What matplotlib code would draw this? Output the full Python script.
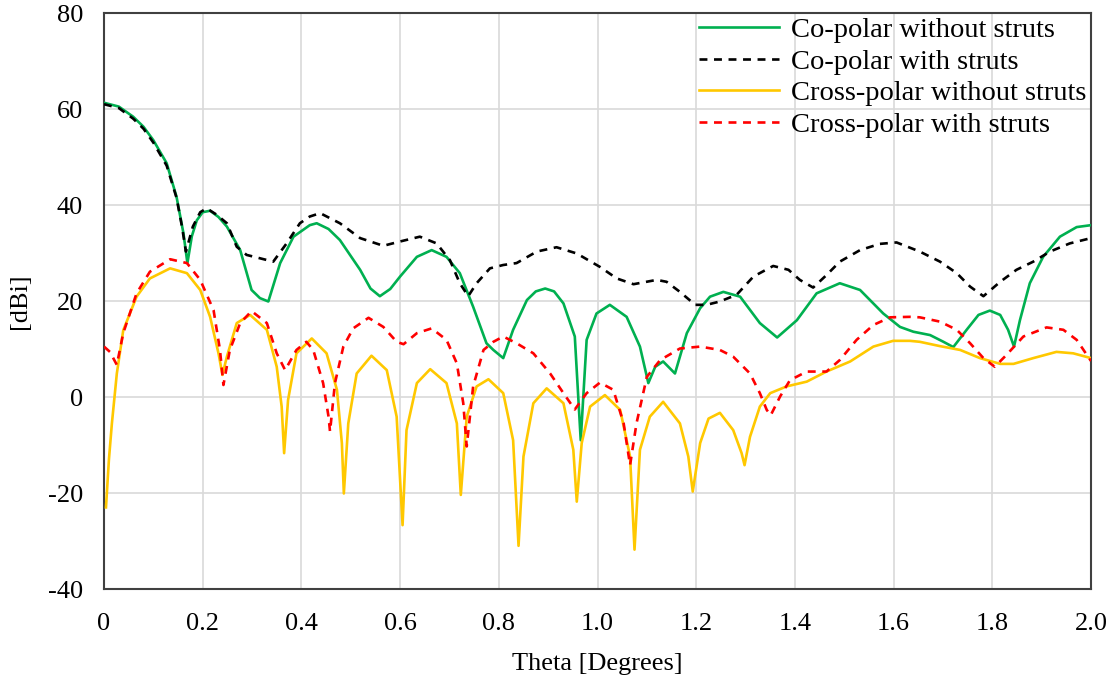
import matplotlib
matplotlib.use("Agg")
import matplotlib.pyplot as plt

# Co-polar without struts (green)
co_ns_x = [0.000, 0.030, 0.059, 0.080, 0.100, 0.127, 0.147, 0.161, 0.169, 0.178, 0.188, 0.200, 0.215, 0.232,
           0.249, 0.276, 0.299, 0.316, 0.333, 0.357, 0.384, 0.417, 0.431, 0.455, 0.478, 0.519, 0.540,
           0.559, 0.580, 0.600, 0.634, 0.664, 0.694, 0.721, 0.748, 0.775, 0.789, 0.809, 0.829, 0.857,
           0.875, 0.894, 0.912, 0.931, 0.954, 0.966, 0.978, 0.998, 1.025, 1.059, 1.086, 1.103, 1.117,
           1.133, 1.157, 1.181, 1.208, 1.228, 1.255, 1.289, 1.329, 1.364, 1.404, 1.444, 1.491, 1.532,
           1.579, 1.613, 1.640, 1.674, 1.701, 1.721, 1.748, 1.772, 1.795, 1.816, 1.832, 1.844, 1.856,
           1.876, 1.903, 1.937, 1.971, 2.000]
co_ns_y = [61.3, 60.5, 58.4, 56.3, 53.5, 48.7, 41.7, 34.1, 27.9, 33.5, 36.8, 38.5, 38.8, 37.5,
           35.5, 30.6, 22.3, 20.6, 19.9, 27.9, 33.4, 35.8, 36.2, 35.0, 32.7, 26.5, 22.6,
           21.0, 22.5, 25.1, 29.2, 30.6, 29.2, 25.8, 18.8, 11.2, 9.8, 8.1, 14.0, 20.2,
           22.0, 22.6, 22.0, 19.5, 12.6, -9.0, 11.9, 17.4, 19.2, 16.7, 10.5, 2.9, 6.3,
           7.4, 4.9, 13.3, 18.5, 20.9, 21.9, 20.9, 15.4, 12.4, 16.0, 21.6, 23.7, 22.3,
           17.4, 14.6, 13.6, 12.9, 11.5, 10.4, 14.0, 17.1, 18.0, 17.1, 14.0, 10.5, 16.0,
           23.7, 29.2, 33.4, 35.4, 35.8]

# Co-polar with struts (black dashed)
co_s_x = [0.000, 0.030, 0.059, 0.080, 0.100, 0.127, 0.147, 0.158, 0.166, 0.180, 0.195, 0.208, 0.228,
          0.249, 0.269, 0.289, 0.316, 0.343, 0.370, 0.397, 0.417, 0.438, 0.478, 0.519, 0.566,
          0.600, 0.640, 0.674, 0.701, 0.721, 0.738, 0.755, 0.782, 0.809, 0.836, 0.877, 0.917,
          0.958, 1.005, 1.039, 1.073, 1.120, 1.140, 1.167, 1.198, 1.221, 1.248, 1.282, 1.316,
          1.356, 1.387, 1.410, 1.437, 1.464, 1.491, 1.532, 1.572, 1.606, 1.653, 1.694, 1.728,
          1.755, 1.782, 1.816, 1.849, 1.883, 1.917, 1.957, 2.000]
co_s_y = [61.0, 60.2, 58.0, 55.9, 53.0, 48.2, 41.5, 35.5, 30.3, 35.5, 38.5, 39.3, 38.0,
          36.2, 31.3, 29.6, 28.9, 28.2, 32.0, 36.2, 37.6, 38.3, 36.2, 33.1, 31.5,
          32.4, 33.4, 32.0, 28.5, 23.7, 21.0, 23.7, 26.8, 27.5, 27.9, 30.3, 31.2,
          29.9, 27.1, 24.7, 23.5, 24.4, 24.0, 21.9, 19.2, 19.2, 19.9, 21.3, 25.1,
          27.3, 26.5, 24.4, 22.8, 25.4, 28.2, 30.6, 31.9, 32.2, 30.3, 28.2, 25.8,
          23.0, 21.0, 24.0, 26.5, 28.2, 30.3, 32.0, 33.1]

# Cross-polar without struts (yellow)
cx_ns_x = [0.004, 0.010, 0.016, 0.026, 0.039, 0.066, 0.093, 0.134, 0.168, 0.195, 0.215, 0.232,
           0.240, 0.249, 0.269, 0.296, 0.330, 0.350, 0.360, 0.365, 0.373, 0.390, 0.421, 0.451,
           0.472, 0.482, 0.486, 0.495, 0.512, 0.542, 0.573, 0.593, 0.605, 0.613, 0.634, 0.661,
           0.694, 0.715, 0.723, 0.735, 0.755, 0.779, 0.809, 0.829, 0.840, 0.850, 0.870, 0.897,
           0.931, 0.951, 0.958, 0.968, 0.985, 1.015, 1.046, 1.066, 1.075, 1.086, 1.106, 1.133,
           1.167, 1.184, 1.193, 1.208, 1.225, 1.248, 1.275, 1.292, 1.298, 1.309, 1.329, 1.350,
           1.383, 1.424, 1.464, 1.512, 1.559, 1.599, 1.633, 1.653, 1.694, 1.735, 1.775, 1.816,
           1.843, 1.883, 1.930, 1.964, 2.000]
cx_ns_y = [-23.0, -13.0, -5.5, 4.9, 13.9, 20.9, 24.7, 26.8, 25.8, 22.3, 16.7, 9.1,
           4.6, 8.4, 15.4, 17.1, 14.0, 6.3, -2.0, -11.7, -0.6, 9.1, 12.2, 9.1,
           1.5, -9.6, -20.1, -5.5, 4.9, 8.6, 5.6, -4.1, -26.7, -6.9, 2.9, 5.8,
           2.9, -5.5, -20.4, -4.1, 2.2, 3.7, 0.8, -9.0, -31.0, -12.4, -1.3, 1.8,
           -1.3, -11.0, -21.8, -9.6, -2.0, 0.4, -2.7, -12.4, -31.8, -11.0, -4.1, -1.0,
           -5.5, -12.4, -19.7, -9.6, -4.5, -3.3, -6.9, -11.7, -14.2, -8.3, -2.0, 0.8,
           2.2, 3.2, 5.3, 7.4, 10.5, 11.7, 11.7, 11.5, 10.6, 9.8, 8.1, 6.9,
           6.9, 8.1, 9.4, 9.1, 8.1]

# Cross-polar with struts (red dashed)
cx_s_x = [0.000, 0.012, 0.026, 0.039, 0.066, 0.093, 0.134, 0.168, 0.195, 0.222, 0.235, 0.242,
          0.255, 0.276, 0.299, 0.330, 0.350, 0.367, 0.390, 0.410, 0.424, 0.444, 0.455, 0.458,
          0.468, 0.485, 0.505, 0.536, 0.566, 0.593, 0.607, 0.634, 0.664, 0.694, 0.715, 0.728,
          0.735, 0.748, 0.769, 0.789, 0.809, 0.836, 0.870, 0.904, 0.931, 0.954, 0.978, 1.005,
          1.032, 1.053, 1.066, 1.079, 1.100, 1.127, 1.167, 1.208, 1.248, 1.275, 1.309, 1.329,
          1.343, 1.351, 1.370, 1.390, 1.424, 1.464, 1.491, 1.525, 1.559, 1.593, 1.633, 1.653,
          1.694, 1.728, 1.755, 1.782, 1.805, 1.829, 1.863, 1.910, 1.944, 1.971, 2.000]
cx_s_y = [10.5, 9.4, 6.7, 13.3, 21.6, 26.1, 28.7, 27.9, 24.4, 18.1, 9.8, 2.5,
          9.8, 15.4, 17.9, 15.4, 9.1, 5.6, 9.8, 11.5, 9.8, 2.9, -4.1, -7.2,
          2.9, 10.5, 14.3, 16.5, 14.6, 11.5, 11.0, 13.3, 14.3, 11.9, 7.0, -1.3,
          -10.3, 2.2, 9.8, 11.5, 12.6, 11.2, 9.1, 4.9, 0.8, -2.6, 0.8, 3.0,
          1.5, -5.5, -14.2, -5.5, 4.2, 7.7, 10.1, 10.5, 9.8, 8.4, 4.9, 0.8,
          -2.7, -3.8, 0.1, 3.5, 5.3, 5.3, 7.7, 11.9, 15.0, 16.6, 16.7, 16.6,
          15.7, 14.0, 11.2, 8.1, 6.3, 8.8, 12.6, 14.5, 14.0, 11.9, 7.5]

labels = ["Co-polar without struts", "Co-polar with struts",
          "Cross-polar without struts", "Cross-polar with struts"]
xticks = [0, 0.2, 0.4, 0.6, 0.8, 1.0, 1.2, 1.4, 1.6, 1.8, 2.0]
xticklabels = ["0", "0.2", "0.4", "0.6", "0.8", "1.0", "1.2", "1.4", "1.6", "1.8", "2.0"]
yticks = [-40, -20, 0, 20, 40, 60, 80]

plt.rcParams['font.family'] = ['Liberation Serif', 'DejaVu Serif']
plt.rcParams['axes.unicode_minus'] = False

fig = plt.figure(figsize=(11.14, 6.88), dpi=100)
ax = fig.add_axes([104 / 1114, 1 - 589 / 688, (1091 - 104) / 1114, (589 - 13) / 688])

lw = 1.9
ax.plot(co_ns_x, co_ns_y, color='#00B050', lw=lw, label=labels[0], zorder=3)
ax.plot(co_s_x, co_s_y, color='black', lw=lw, ls=(0, (3, 2.5)), label=labels[1], zorder=4)
ax.plot(cx_ns_x, cx_ns_y, color='#FFC800', lw=lw, label=labels[2], zorder=3)
ax.plot(cx_s_x, cx_s_y, color='#FF0000', lw=lw, ls=(0, (3, 2.5)), label=labels[3], zorder=4)

ax.set_xlim(0, 2.0)
ax.set_ylim(-40, 80)
ax.set_xticks(xticks)
ax.set_xticklabels(xticklabels)
ax.set_yticks(yticks)
ax.grid(True, color='#D9D9D9', lw=1.2)
ax.set_axisbelow(True)
ax.tick_params(axis='both', length=0, labelsize=19)
ax.tick_params(axis='x', pad=17)
ax.tick_params(axis='y', pad=15)
for s in ax.spines.values():
    s.set_color('#404040')
    s.set_linewidth(1.5)

ax.set_xlabel("Theta [Degrees]", fontsize=19, labelpad=13)
ax.set_ylabel("[dBi]", fontsize=19, labelpad=12)

leg = ax.legend(loc='upper right', bbox_to_anchor=(1.0, 1.0), frameon=False, fontsize=20.5,
                handlelength=2.8, handletextpad=0.45, labelspacing=0.2, borderaxespad=0.0,
                borderpad=0.15)

fig.savefig("out.png", dpi=100)
